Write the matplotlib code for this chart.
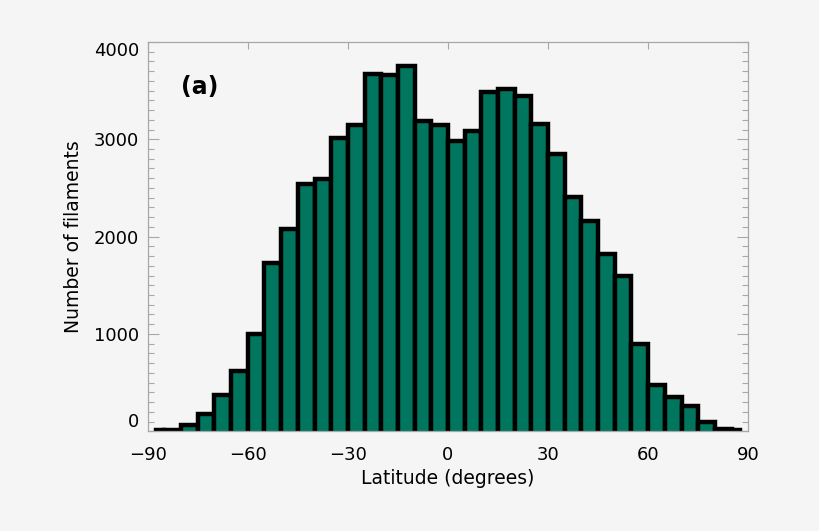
import numpy as np
import matplotlib
matplotlib.use("Agg")
import matplotlib.pyplot as plt
from matplotlib.ticker import MultipleLocator, FixedLocator

# ---- data -------------------------------------------------------------
bin_edges = np.arange(-90, 95, 5)          # 5-degree latitude bins
counts = np.array([
    10, 15, 65, 175, 372, 615,             # -90 .. -60
    1003, 1733, 2076, 2538, 2590, 3011,    # -60 .. -30
    3148, 3669, 3662, 3751, 3189, 3150,    # -30 .. 0
    2984, 3087, 3484, 3518, 3443, 3155,    # 0 .. 30
    2847, 2408, 2161, 1819, 1593, 900,     # 30 .. 60
    476, 356, 257, 96, 27, 10,             # 60 .. 90
])
x_ticks = [-90, -60, -30, 0, 30, 60, 90]
y_ticks = [0, 1000, 2000, 3000, 4000]
x_label = "Latitude (degrees)"
y_label = "Number of filaments"
panel_tag = "(a)"

# ---- style ------------------------------------------------------------
bg = "#f5f5f5"
teal = "#00765f"
frame = "#a8a8a8"

plt.rcParams["font.family"] = ["DejaVu Sans"]
fig = plt.figure(figsize=(8.2, 5.31), dpi=100, facecolor=bg)
ax = fig.add_axes([0.1801, 0.1878, 0.7324, 0.7332])
ax.set_facecolor(bg)

# IDL histogram style: first and last bins are drawn only half wide
lefts = bin_edges[:-1].astype(float)
widths = np.diff(bin_edges).astype(float)
centers = lefts + widths / 2
lefts[0] = centers[0]
widths[0] = widths[0] / 2
widths[-1] = widths[-1] / 2

pad = 200  # push bar bottoms below the axis so their bottom edge is hidden
ax.bar(lefts, counts + pad, width=widths, bottom=-pad, align="edge",
       color=teal, edgecolor="black", linewidth=3.2, zorder=2)

ax.set_xlim(-90, 90)
ax.set_ylim(0, 4000)

ax.xaxis.set_major_locator(FixedLocator(x_ticks))
ax.yaxis.set_major_locator(FixedLocator(y_ticks))
ax.yaxis.set_minor_locator(MultipleLocator(100))

for s in ax.spines.values():
    s.set_color(frame)
    s.set_linewidth(0.9)

ax.tick_params(axis="y", which="major", direction="in", length=8, width=0.8,
               color=frame, left=True, right=True, labelsize=13, pad=6,
               labelcolor="black")
ax.tick_params(axis="y", which="minor", direction="in", length=4.5, width=0.8,
               color=frame, left=True, right=True)
ax.tick_params(axis="x", which="major", direction="in", length=5, width=0.8,
               color=frame, top=True, bottom=False, labelsize=13, pad=10.5,
               labelcolor="black")

ax.set_xlabel(x_label, fontsize=13.5, labelpad=4)
ax.set_ylabel(y_label, fontsize=13.5, labelpad=8)

ax.text(0.055, 0.885, panel_tag, transform=ax.transAxes, fontsize=17,
        fontweight="bold", ha="left", va="center")

fig.canvas.draw()
yt = ax.yaxis.get_major_ticks()
yt[0].label1.set_va("bottom")
yt[-1].label1.set_va("top")

fig.savefig("out.png", dpi=100, facecolor=bg)
